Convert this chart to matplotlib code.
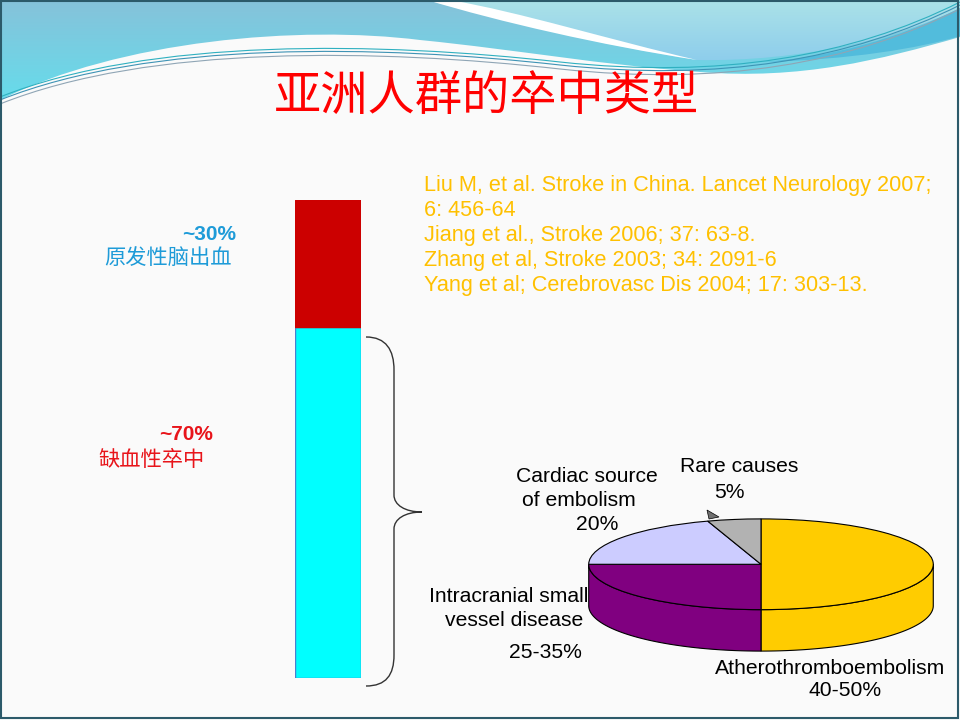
import numpy as np
import matplotlib
matplotlib.use("Agg")
import matplotlib.pyplot as plt
from matplotlib.path import Path
from matplotlib.patches import PathPatch, Polygon, Rectangle

plt.rcParams['font.family'] = ['Liberation Sans', 'Noto Sans CJK SC', 'DejaVu Sans']
CJK = ['Noto Sans CJK SC', 'DejaVu Sans']

# stacked bar: share of stroke types (as drawn)
bar_labels = ['缺血性卒中', '原发性脑出血']
bar_pcts = ['~70%', '~30%']
bar_values = [73.5, 26.5]
bar_colors = ['#00FFFF', '#CC0000']

# pie: subtypes of ischaemic stroke
pie_names = ['Atherothromboembolism', 'Intracranial small\nvessel disease',
             'Cardiac source\nof embolism', 'Rare causes']
pie_ranges = ['40-50%', '25-35%', '20%', '5%']
pie_values = [50, 25, 20, 5]
pie_colors = ['#FFCC00', '#800080', '#CCCCFF', '#B2B2B2']

refs = ["Liu M, et al. Stroke in China. Lancet Neurology 2007;",
        "6: 456-64",
        "Jiang et al., Stroke 2006; 37: 63-8.",
        "Zhang et al, Stroke 2003; 34: 2091-6",
        "Yang et al; Cerebrovasc Dis 2004; 17: 303-13."]

fig = plt.figure(figsize=(9.6, 7.2), dpi=100)
fig.patch.set_facecolor('#FAFAFA')
bg = fig.add_axes([0, 0, 1, 1])
bg.set_xlim(0, 960)
bg.set_ylim(720, 0)
bg.axis('off')


def bez_patch(verts, codes, **kw):
    p = PathPatch(Path(verts, codes), **kw)
    bg.add_patch(p)
    return p


def gradient(patch, c1, c2, extent):
    g = np.linspace(0, 1, 256).reshape(-1, 1)
    a = np.array(matplotlib.colors.to_rgb(c1))
    b = np.array(matplotlib.colors.to_rgb(c2))
    img = a + (b - a) * g[..., None]
    im = bg.imshow(np.repeat(img, 2, axis=1), extent=extent, aspect='auto',
                   zorder=patch.get_zorder(), interpolation='bilinear')
    im.set_clip_path(patch)


M, L, C, Z = Path.MOVETO, Path.LINETO, Path.CURVE4, Path.CLOSEPOLY

# main blue band
main = bez_patch([(0, 0), (960, 0), (960, 37),
                  (880, 60), (800, 80), (700, 72),
                  (600, 65), (520, 50), (420, 40),
                  (300, 25), (120, 40), (0, 100), (0, 0)],
                 [M, L, L, C, C, C, C, C, C, C, C, C, Z],
                 facecolor='none', edgecolor='none', zorder=1)
gradient(main, '#86C2DA', '#66DCEB', (0, 960, 100, 0))

# light top-right area
light = bez_patch([(427, 0), (960, 0), (960, 8),
                   (900, 38), (800, 62), (697, 60),
                   (600, 45), (500, 20), (427, 0)],
                  [M, L, L, C, C, C, C, C, C],
                  facecolor='none', edgecolor='none', zorder=2)
gradient(light, '#ABE2E8', '#8DCDEC', (427, 960, 62, 0))

# darker strip on the right
bez_patch([(960, 8), (900, 38), (830, 58), (760, 62),
           (850, 60), (920, 48), (960, 36), (960, 8)],
          [M, C, C, C, C, C, C, Z],
          facecolor='#52BCDC', edgecolor='none', zorder=2)

# white swoosh
bez_patch([(427, 0), (500, 22), (600, 45), (697, 60),
           (610, 40), (520, 12), (450, 0), (427, 0)],
          [M, C, C, C, C, C, C, Z],
          facecolor='white', edgecolor='none', zorder=3)

# thin curved strokes
for dy, col in [(0, '#3E93B5'), (4, '#8FA5B5'), (-3, '#2FB0C0')]:
    bez_patch([(0, 100 + dy), (150, 40 + dy), (380, 45 + dy), (560, 65 + dy),
               (720, 82 + dy), (850, 60 + dy), (960, 5 + dy)],
              [M, C, C, C, C, C, C],
              facecolor='none', edgecolor=col, lw=0.8, zorder=4)

bg.add_patch(Rectangle((1, 1), 957, 717, fill=False, edgecolor='#2C5A6A',
                       lw=1.5, zorder=10))

# title
bg.text(486, 97, '亚洲人群的卒中类型', color='#FF0000', fontsize=34,
        fontweight='medium', family=CJK, ha='center', va='center', zorder=5)

# references
for i, line in enumerate(refs):
    bg.text(424, 185 + i * 25.2, line, color='#FFC000', fontsize=15.6,
            ha='left', va='center')

# stacked bar
axb = fig.add_axes([295 / 960, (720 - 678) / 720, 66 / 960, 478 / 720])
bottom = 0
for v, c in zip(bar_values, bar_colors):
    axb.bar([0], [v], bottom=bottom, width=1, color=c,
            edgecolor='#4A80D0' if c == '#00FFFF' else c, lw=1)
    bottom += v
axb.set_xlim(-0.5, 0.5)
axb.set_ylim(0, sum(bar_values))
axb.axis('off')

bar_text_cols = ['#E8141A', '#1E9BD8']
bar_text_pos = [(213, 435, 205, 460), (236, 234, 232, 259)]
for lab, pct, col, (px, py, lx, ly) in zip(bar_labels, bar_pcts, bar_text_cols, bar_text_pos):
    bg.text(px, py, pct, color=col, fontsize=15, fontweight='bold',
            ha='right', va='center')
    bg.text(lx, ly, lab, color=col, fontsize=15.3, family=CJK,
            ha='right', va='center')

# brace
bez_patch([(366, 337), (386, 337), (394, 350), (394, 370),
           (394, 495), (394, 505), (405, 512), (422, 512),
           (405, 512), (394, 519), (394, 529),
           (394, 655), (394, 675), (386, 686), (366, 686)],
          [M, C, C, C, L, C, C, C, C, C, C, L, C, C, C],
          facecolor='none', edgecolor='#333333', lw=1, zorder=5)

# 3D-looking pie
axp = fig.add_axes([587 / 960, (720 - 652) / 720, 348 / 960, 134 / 720])
depth = 42 / 46
wedges, _ = axp.pie(pie_values, colors=pie_colors, startangle=90,
                    counterclock=False,
                    wedgeprops=dict(edgecolor='black', lw=0.8, zorder=3))
axp.set_aspect('auto')
axp.set_xlim(-1.01, 1.01)
axp.set_ylim(-1 - depth - 0.02, 1.02)
axp.axis('off')
for w, col in zip(wedges, pie_colors):
    t1, t2 = w.theta1, w.theta2
    for lo, hi in [(-180, 0), (180, 360)]:
        a, b = max(t1, lo), min(t2, hi)
        if b <= a:
            continue
        t = np.radians(np.linspace(a, b, 100))
        top = np.column_stack([np.cos(t), np.sin(t)])
        bot = top[::-1] - [0, depth]
        axp.add_patch(Polygon(np.vstack([top, bot]), closed=True,
                              facecolor=col, edgecolor='black', lw=0.8,
                              zorder=2))

# small detached fragment of the grey slice
bg.add_patch(Polygon([(707, 510), (719, 517), (709, 519)], closed=True,
                     facecolor='#707070', edgecolor='black', lw=0.5, zorder=6))

pie_text = [
    [(830, 668, 'Atherothromboembolism'), (845, 691, '40-50%')],
    [(509, 596, 'Intracranial small'), (514, 620, 'vessel disease'),
     (545, 652, '25-35%')],
    [(587, 476, 'Cardiac source'), (579, 500, 'of embolism'),
     (597, 524, '20%')],
    [(739, 467, 'Rare causes'), (729, 492, '5%')],
]
for lines in pie_text:
    for x, y, s in lines:
        bg.text(x, y, s, color='black', fontsize=15.2, ha='center',
                va='center', zorder=6)

fig.savefig('out.png', dpi=100, facecolor=fig.get_facecolor())
